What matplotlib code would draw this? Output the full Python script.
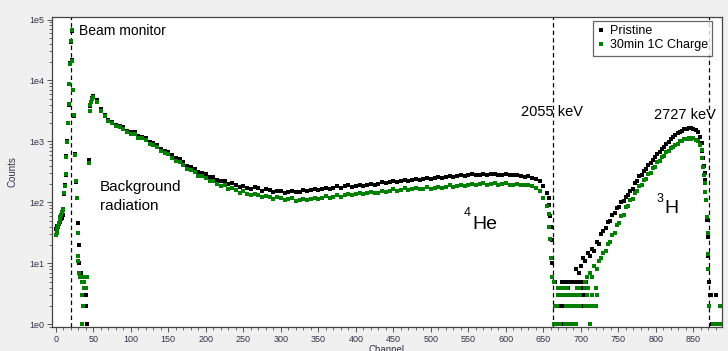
import numpy as np
import matplotlib.pyplot as plt
from matplotlib.ticker import FixedLocator, LogLocator, NullFormatter, FuncFormatter, MultipleLocator

plt.rcParams["font.family"] = ["Liberation Sans", "DejaVu Sans"]

# ---- data (channel, counts) ----
SERIES_NAMES = ["Pristine", "30min 1C Charge"]
SERIES_COLORS = ["#000000", "#008000"]

# beam monitor / left edge, per channel
PRISTINE_LEFT_CH = [0, 1, 2, 3, 4, 5, 6, 7, 8, 9, 10, 11, 12, 13, 14, 15, 16, 17, 18, 19,
                    20, 21, 22, 23, 24, 26, 27, 28, 29, 31, 31, 32, 33, 34, 36, 39, 40, 40,
                    41, 44, 46, 47, 48, 49]
PRISTINE_LEFT_N = [37, 35, 41, 39, 44, 47, 49, 53, 56, 61, 74, 135, 190, 285, 570, 1010, 1980,
                   3950, 8600, 19500, 43000, 66000, 21500, 6900, 2650, 610, 215, 118, 46, 20,
                   10, 7, 7, 6, 5, 4, 3, 2, 1, 490, 3800, 4500, 5100, 5450]
CHARGED_LEFT_CH = [0, 1, 2, 3, 4, 5, 6, 7, 8, 9, 10, 11, 12, 13, 14, 15, 16, 17, 18, 19,
                   20, 21, 22, 23, 24, 26, 27, 28, 29, 30, 30, 31, 32, 33, 35, 36, 37, 38,
                   40, 42, 35, 36, 35, 44, 45, 46, 47, 48, 49]
CHARGED_LEFT_N = [29, 31, 36, 41, 46, 52, 57, 63, 70, 76, 78, 142, 186, 290, 560, 990, 2020,
                  4050, 8800, 18800, 44000, 68000, 20500, 7100, 2700, 600, 225, 120, 31, 13,
                  11, 7, 6, 6, 5, 6, 4, 5, 4, 6, 3, 2, 1, 435, 3200, 3900, 4500, 5000, 5350]

# background + 4He region, every 5th channel from 50 to 655
MAIN_CH = np.arange(50, 660, 5)
PRISTINE_MAIN = [
    5600, 4750, 3350, 2750, 2250, 2110, 1850, 1800, 1710, 1490, 1420, 1400, 1220, 1190, 1130,
    975, 945, 880, 760, 700, 675, 590, 525, 505, 462, 398, 382, 350, 310, 306, 292, 259, 262,
    232, 221, 222, 200, 206, 196, 178, 188, 171, 166, 176, 170, 155, 163, 160, 146, 155, 152,
    143, 150, 156, 147, 149, 161, 152, 158, 167, 160, 163, 175, 168, 171, 182, 174, 185, 190,
    180, 186, 196, 188, 192, 203, 195, 199, 212, 204, 214, 223, 213, 221, 234, 225, 230, 243,
    233, 240, 252, 241, 249, 262, 252, 257, 271, 262, 266, 279, 269, 276, 289, 278, 284, 297,
    284, 288, 297, 282, 284, 292, 276, 277, 284, 266, 264, 268, 248, 238, 222, 188, 142]
CHARGED_MAIN = [
    5450, 4350, 3150, 2600, 2150, 1990, 1760, 1700, 1600, 1410, 1340, 1310, 1150, 1120, 1060,
    920, 885, 815, 705, 648, 615, 536, 478, 458, 415, 358, 342, 312, 275, 270, 254, 224, 226,
    198, 188, 190, 166, 170, 160, 144, 152, 136, 131, 139, 133, 121, 128, 124, 113, 121, 117,
    109, 114, 116, 106, 108, 115, 108, 112, 120, 113, 116, 125, 119, 122, 131, 124, 132, 137,
    130, 135, 143, 136, 140, 147, 141, 145, 156, 149, 156, 164, 155, 161, 170, 162, 166, 174,
    164, 168, 176, 166, 171, 181, 174, 178, 189, 181, 186, 196, 187, 193, 202, 192, 197, 204,
    194, 198, 205, 195, 198, 204, 192, 195, 201, 190, 192, 196, 182, 174, 152, 118, 86]

# 4He edge drop
PRISTINE_DROP_CH = [657, 658, 659, 660, 661, 662]
PRISTINE_DROP_N = [118, 92, 60, 40, 24, 10]
CHARGED_DROP_CH = [657, 658, 659, 660, 661]
CHARGED_DROP_N = [64, 40, 25, 12, 6]

# low-count gap between the peaks: channels seen at each integer count
PRISTINE_GAP = {
    5: [666, 675, 680, 683, 686, 689, 692, 695, 699, 701, 707],
    4: [683, 695, 701],
    3: [696, 701, 704],
    2: [670, 672, 674, 676, 684, 697, 704],
    1: [666, 675, 682, 687],
}
CHARGED_GAP = {
    5: [664, 706],
    4: [670, 672, 674, 676, 678, 680, 682, 695, 698, 706, 710, 720],
    3: [670, 672, 674, 676, 678, 680, 683, 686, 688, 691, 693, 695, 697, 699, 708, 715, 722],
    2: [666, 668, 680, 685, 690, 692, 694, 697, 699, 705, 708, 712, 718, 720],
    1: [664, 666, 668, 670, 672, 679, 681, 683, 685, 687, 690, 692, 694, 712],
}

# 3H peak
PRISTINE_H3_CH = [694, 697, 700, 703, 706, 709, 712, 715, 718, 721, 724, 727, 730, 733, 736,
                  739, 742, 745, 748, 751, 754, 757, 760, 763, 766, 769, 772, 775, 778, 781,
                  784, 787, 790, 793, 796, 799, 802, 805, 808, 811, 814, 817, 820, 823, 826,
                  829, 832, 835, 838, 841, 844, 847, 850, 853, 856, 859, 861, 862, 863, 864,
                  865, 866, 867, 868, 869, 870, 871, 872, 873, 875, 880]
PRISTINE_H3_N = [8, 7, 9, 12, 11, 15, 13, 17, 16, 22, 21, 30, 34, 38, 48, 50, 62, 66, 80, 84,
                 100, 104, 124, 131, 156, 168, 204, 226, 266, 286, 332, 356, 408, 440, 502, 545,
                 618, 672, 760, 812, 910, 980, 1090, 1160, 1280, 1350, 1440, 1490, 1570, 1590,
                 1640, 1630, 1620, 1530, 1410, 1170, 930, 700, 530, 390, 300, 233, 110, 51, 27,
                 13, 5, 3, 3, 1, 3]
CHARGED_H3_CH = [708, 712, 715, 718, 721, 724, 727, 730, 733, 736, 739, 742, 745, 748, 751,
                 754, 757, 760, 763, 766, 769, 772, 775, 778, 781, 784, 787, 790, 793, 796,
                 799, 802, 805, 808, 811, 814, 817, 820, 823, 826, 829, 832, 835, 838, 841,
                 844, 847, 850, 853, 856, 859, 861, 862, 863, 864, 865, 866, 867, 868, 869,
                 869, 870, 871, 885, 876, 880, 884, 888]
CHARGED_H3_N = [6, 7, 6, 9, 8, 11, 12, 15, 16, 21, 22, 29, 31, 42, 45, 59, 63, 83, 88, 109,
                114, 143, 152, 184, 194, 230, 242, 290, 305, 362, 382, 455, 480, 558, 585, 665,
                690, 765, 800, 885, 915, 1000, 1015, 1080, 1090, 1130, 1115, 1120, 1070, 1015,
                870, 725, 540, 380, 280, 204, 150, 109, 58, 31, 14, 8, 2, 2, 1, 1, 1, 1]

# dashed markers: beam monitor, 2055 keV, 2727 keV
DIVIDER_CH = [20, 663, 871]


def gather(left_ch, left_n, main_n, drop_ch, drop_n, gap, h3_ch, h3_n):
    ch = list(left_ch) + list(MAIN_CH) + list(drop_ch)
    n = list(left_n) + list(main_n) + list(drop_n)
    for count, chans in gap.items():
        ch += chans
        n += [count] * len(chans)
    ch += h3_ch
    n += h3_n
    return np.array(ch), np.array(n, dtype=float)


pristine = gather(PRISTINE_LEFT_CH, PRISTINE_LEFT_N, PRISTINE_MAIN, PRISTINE_DROP_CH,
                  PRISTINE_DROP_N, PRISTINE_GAP, PRISTINE_H3_CH, PRISTINE_H3_N)
charged = gather(CHARGED_LEFT_CH, CHARGED_LEFT_N, CHARGED_MAIN, CHARGED_DROP_CH,
                 CHARGED_DROP_N, CHARGED_GAP, CHARGED_H3_CH, CHARGED_H3_N)

W, H = 728, 351
fig = plt.figure(figsize=(W / 100, H / 100), dpi=100, facecolor="#f0f0f0")
ax = fig.add_axes([52 / W, 24 / H, 670 / W, 310 / H])
ax.set_facecolor("white")

handles = []
for (ch, n), name, color in zip([pristine, charged], SERIES_NAMES, SERIES_COLORS):
    h, = ax.plot(ch, n, ls="none", marker="s", ms=2.8, mew=0, color=color, label=name)
    handles.append(h)

for c in DIVIDER_CH:
    ax.axvline(c, color="black", lw=0.9, ls=(0, (3.5, 2.5)), zorder=1)

ax.set_yscale("log")
ax.set_xlim(-5, 888)
ax.set_ylim(0.9, 1.1e5)

ax.yaxis.set_major_locator(FixedLocator([1, 10, 100, 1e3, 1e4, 1e5]))
ax.yaxis.set_major_formatter(FuncFormatter(lambda v, _: f"1e{int(round(np.log10(v)))}"))
ax.yaxis.set_minor_locator(LogLocator(base=10, subs=range(2, 10)))
ax.yaxis.set_minor_formatter(NullFormatter())
ax.xaxis.set_major_locator(MultipleLocator(50))
ax.xaxis.set_minor_locator(MultipleLocator(10))

ax.tick_params(which="both", direction="out", colors="#555555", labelcolor="#333344",
               labelsize=6.5, pad=2)
ax.tick_params(which="major", length=3.5, width=0.7)
ax.tick_params(which="minor", length=2, width=0.6)
for sp in ax.spines.values():
    sp.set_color("#444444")
    sp.set_linewidth(0.9)

ax.set_ylabel("Counts", fontsize=7, color="#333344")
ax.yaxis.set_label_coords(-0.052, 0.5)
ax.set_xlabel("Channel", fontsize=7, color="#333344")
ax.xaxis.set_label_coords(0.5, -0.058)

ax.text(31.5, 6.6e4, "Beam monitor", fontsize=10, va="center", ha="left")
ax.text(59, 155, "Background", fontsize=11, va="baseline", ha="left")
ax.text(59, 75, "radiation", fontsize=11, va="baseline", ha="left")
ax.text(544, 60, "4", fontsize=9, va="baseline", ha="left")
ax.text(555, 36, "He", fontsize=14, va="baseline", ha="left")
ax.text(801, 102, "3", fontsize=9, va="baseline", ha="left")
ax.text(811, 66, "H", fontsize=14, va="baseline", ha="left")
ax.text(620, 2600, "2055 keV", fontsize=10.5, va="baseline", ha="left")
ax.text(798, 2290, "2727 keV", fontsize=10.5, va="baseline", ha="left")

leg = fig.legend(handles=handles, loc="upper left", bbox_to_anchor=(593 / W, 1 - 21 / H),
                 frameon=True, fancybox=False, edgecolor="#404040", fontsize=9,
                 handlelength=0.5, handletextpad=0.5, borderpad=0.35, labelspacing=0.15,
                 borderaxespad=0)
leg.get_frame().set_linewidth(0.9)

fig.savefig("out.png", dpi=100, facecolor=fig.get_facecolor())
